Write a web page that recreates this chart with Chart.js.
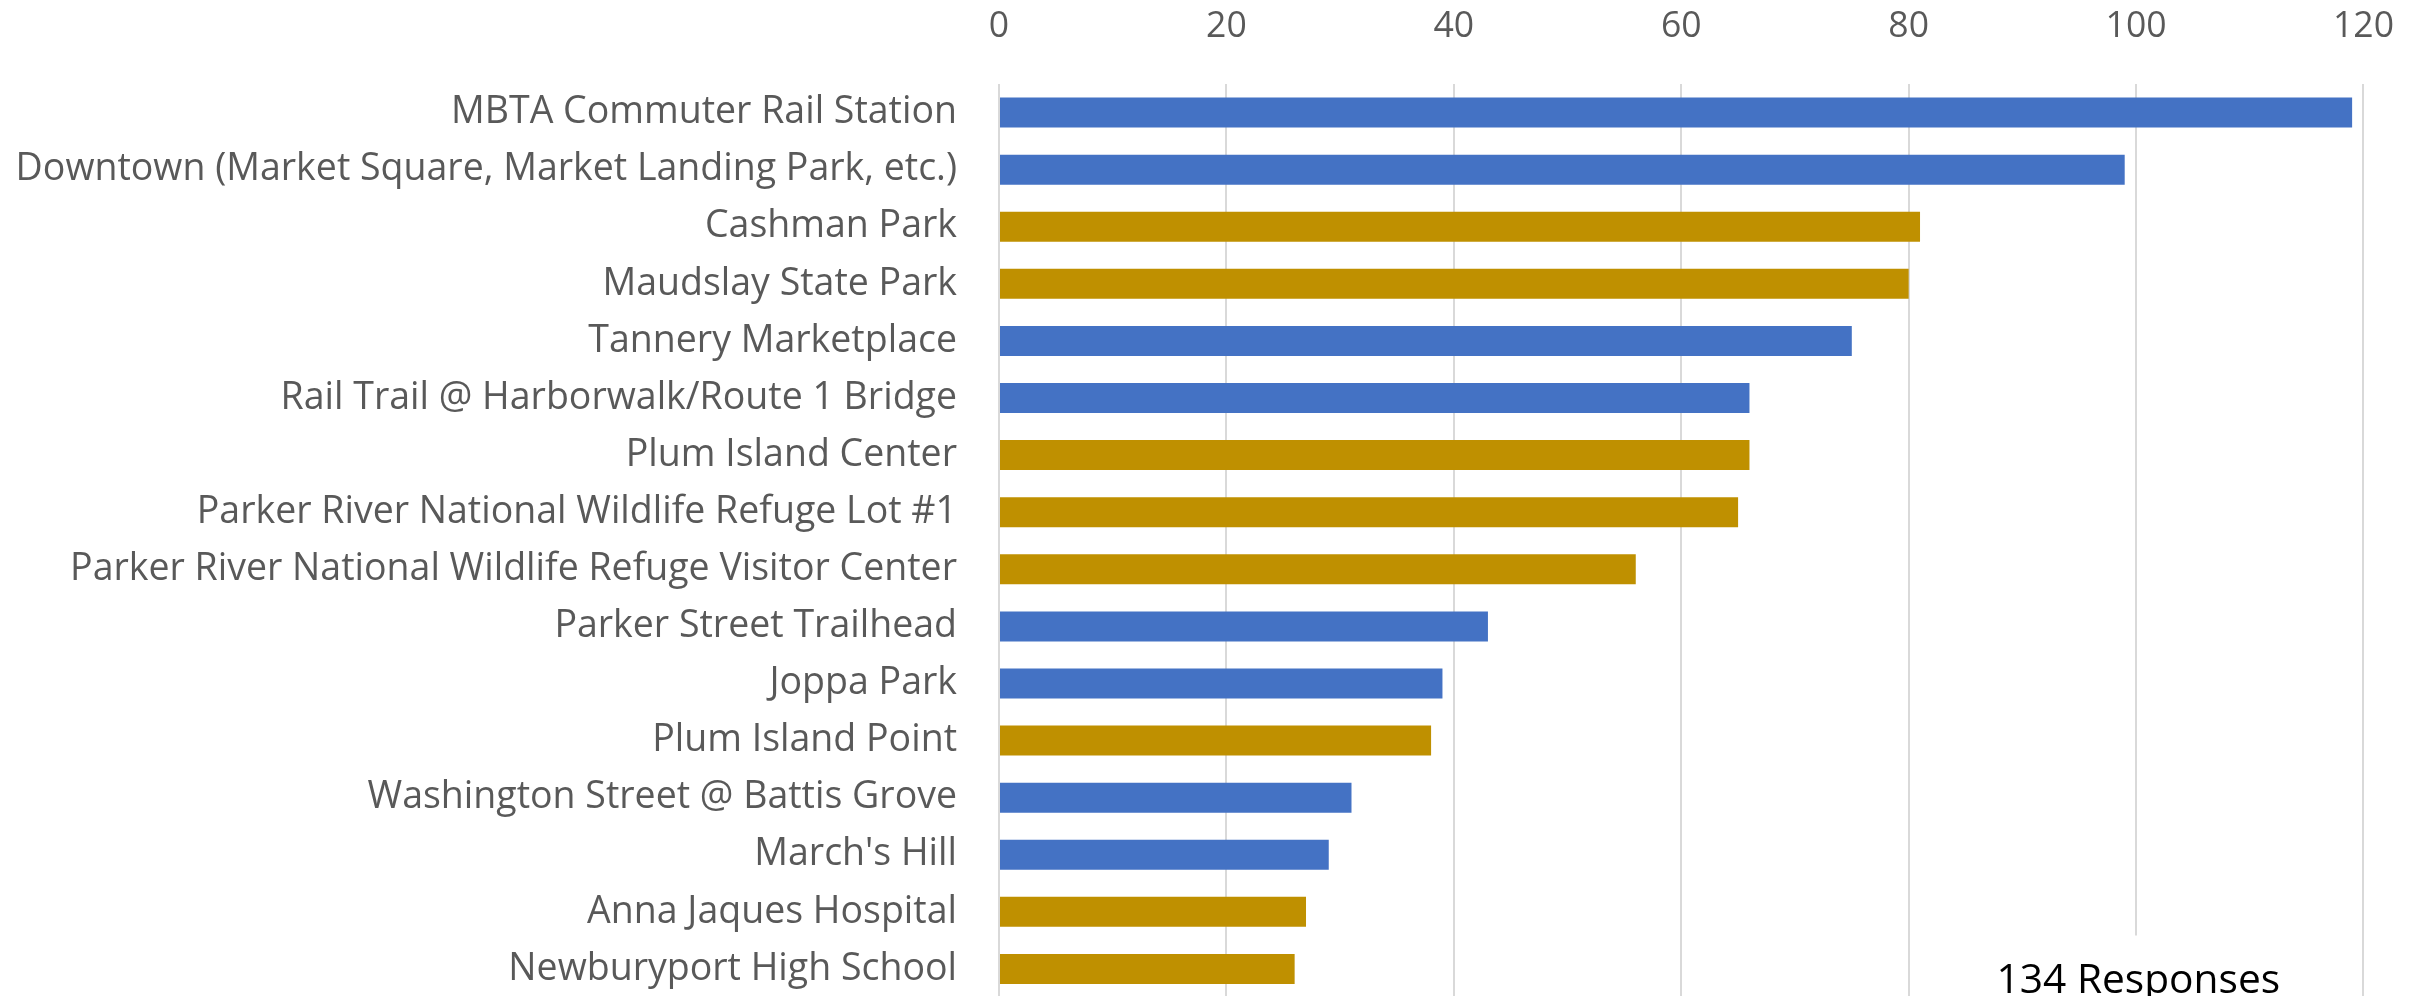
<!DOCTYPE html>
<html>
<head>
<meta charset="utf-8">
<script src="https://cdn.jsdelivr.net/npm/chart.js@4.4.1/dist/chart.umd.min.js"></script>
<style>
html,body{margin:0;padding:0;background:#ffffff;overflow:hidden}
canvas{display:block}
</style>
</head>
<body>
<canvas id="c" width="2430" height="1000" style="width:2430px;height:1000px"></canvas>
<script>
const categories = [
  "MBTA Commuter Rail Station",
  "Downtown (Market Square, Market Landing Park, etc.)",
  "Cashman Park",
  "Maudslay State Park",
  "Tannery Marketplace",
  "Rail Trail @ Harborwalk/Route 1 Bridge",
  "Plum Island Center",
  "Parker River National Wildlife Refuge Lot #1",
  "Parker River National Wildlife Refuge Visitor Center",
  "Parker Street Trailhead",
  "Joppa Park",
  "Plum Island Point",
  "Washington Street @ Battis Grove",
  "March's Hill",
  "Anna Jaques Hospital",
  "Newburyport High School"
];
const responses = [119, 99, 81, 80, 75, 66, 66, 65, 56, 43, 39, 38, 31, 29, 27, 26];
const groups = ["blue","blue","gold","gold","blue","blue","gold","gold","gold","blue","blue","gold","blue","blue","gold","gold"];
const xTickValues = [0, 20, 40, 60, 80, 100, 120];
const noteText = "134 Responses";

const groupColors = { blue: "#4472C4", gold: "#BF9000" };
const FONT = "'Open Sans', sans-serif";

// choose font sizes so text widths match the reference
const mctx = document.createElement("canvas").getContext("2d");
function sizeFor(text, target) {
  mctx.font = "100px " + FONT;
  return Math.round(100 * target / mctx.measureText(text).width * 10) / 10;
}
const labelSize = sizeFor(categories[1], 942);
const tickSize = sizeFor("120", 61);
const noteSize = sizeFor(noteText, 284);

const notePlugin = {
  id: "note",
  afterDraw(chart) {
    const { ctx, chartArea, scales } = chart;
    const x = scales.x;
    const left = x.getPixelForValue(84.5);
    const right = x.getPixelForValue(116);
    const top = chartArea.bottom - 62;
    ctx.save();
    ctx.fillStyle = "#ffffff";
    ctx.fillRect(left, top, right - left, chartArea.bottom - top + 10);
    ctx.fillStyle = "#000000";
    ctx.font = noteSize + "px " + FONT;
    ctx.textAlign = "center";
    ctx.textBaseline = "alphabetic";
    ctx.fillText(noteText, x.getPixelForValue(100.2), chartArea.bottom - 5);
    ctx.restore();
  }
};

new Chart(document.getElementById("c"), {
  type: "bar",
  data: {
    labels: categories,
    datasets: [{
      label: "Responses",
      data: responses,
      backgroundColor: groups.map(g => groupColors[g]),
      borderWidth: 0,
      categoryPercentage: 1.0,
      barPercentage: 0.525
    }]
  },
  options: {
    indexAxis: "y",
    responsive: false,
    animation: false,
    events: [],
    layout: { padding: { left: 0, right: 64, top: 0, bottom: 2.5 } },
    plugins: { legend: { display: false }, tooltip: { enabled: false } },
    scales: {
      x: {
        position: "top",
        min: 0,
        max: 120,
        afterBuildTicks(scale) { scale.ticks = xTickValues.map(v => ({ value: v })); },
        afterFit(scale) { scale.height = 84; },
        grid: { color: "#d9d9d9", lineWidth: 2, drawTicks: false },
        border: { display: false },
        ticks: {
          color: "#595959",
          font: { family: FONT, size: tickSize },
          padding: 36,
          maxRotation: 0
        }
      },
      y: {
        afterFit(scale) {
          scale.width = 999;
          scale.paddingTop = 0;
          scale.paddingBottom = 0;
        },
        grid: { display: false, drawTicks: false },
        border: { display: false },
        ticks: {
          color: "#595959",
          font: { family: FONT, size: labelSize },
          padding: 42,
          autoSkip: false
        }
      }
    }
  },
  plugins: [notePlugin]
});
</script>
</body>
</html>
